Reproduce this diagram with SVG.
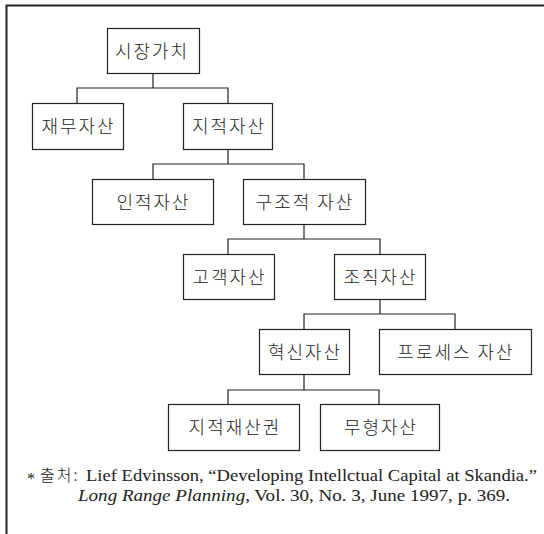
<svg xmlns="http://www.w3.org/2000/svg" width="544" height="534" viewBox="0 0 544 534">
<style>
.box{fill:#fff;stroke:#222;stroke-width:1.2}
.lbl{font-family:"Noto Sans CJK KR","Noto Sans",sans-serif;font-size:18px;font-weight:300;letter-spacing:2px;fill:#222;text-anchor:middle}
.conn{fill:none;stroke:#222;stroke-width:1.2}
.note{font-family:"Liberation Serif",serif;font-size:16px;fill:#222}
.kr{font-family:"Noto Sans CJK KR",sans-serif;font-size:16px;font-weight:300;letter-spacing:2px;fill:#222}
</style>
<rect width="544" height="534" fill="#fff"/>
<path d="M6.5,534 V5.5 H544" fill="none" stroke="#222" stroke-width="2"/>
<g id="connectors" class="conn">
<path d="M153,73 V88 M77,103 V88 H228 V103"/>
<path d="M228,149 V164 M153,179 V164 H304 V179"/>
<path d="M304,224 V239 M228,254 V239 H380 V254"/>
<path d="M380,299 V314 M304,329 V314 H455 V329"/>
<path d="M304,374 V390 M228,404 V390 H379 V404"/>
</g>
<g id="n1"><rect class="box" x="107.5" y="28.5" width="92" height="45"/><text class="lbl" x="152" y="58">시장가치</text></g>
<g id="n2"><rect class="box" x="32.5" y="103.5" width="91" height="46"/><text class="lbl" x="78.5" y="133">재무자산</text></g>
<g id="n3"><rect class="box" x="183.5" y="103.5" width="89" height="46"/><text class="lbl" x="229" y="133">지적자산</text></g>
<g id="n4"><rect class="box" x="92.5" y="179.5" width="121" height="45"/><text class="lbl" x="153.5" y="209">인적자산</text></g>
<g id="n5"><rect class="box" x="243.5" y="179.5" width="122" height="45"/><text class="lbl" x="305" y="209">구조적 자산</text></g>
<g id="n6"><rect class="box" x="183.5" y="254.5" width="91" height="45"/><text class="lbl" x="229.5" y="284">고객자산</text></g>
<g id="n7"><rect class="box" x="334.5" y="254.5" width="91" height="45"/><text class="lbl" x="380.5" y="284">조직자산</text></g>
<g id="n8"><rect class="box" x="259.5" y="329.5" width="90" height="45"/><text class="lbl" x="305" y="359">혁신자산</text></g>
<g id="n9"><rect class="box" x="379.5" y="329.5" width="152" height="45"/><text class="lbl" x="456" y="359">프로세스 자산</text></g>
<g id="n10"><rect class="box" x="168.5" y="404.5" width="131" height="46"/><text class="lbl" x="235" y="434">지적재산권</text></g>
<g id="n11"><rect class="box" x="320.5" y="404.5" width="119" height="46"/><text class="lbl" x="381" y="434">무형자산</text></g>
<g id="footnote">
<text class="note" x="27" y="484">*</text>
<text class="kr" x="40" y="481">출처:</text>
<text class="note" x="86" y="481" textLength="451" lengthAdjust="spacingAndGlyphs">Lief Edvinsson, “Developing Intellctual Capital at Skandia.”</text>
<text class="note" x="78" y="501" textLength="432" lengthAdjust="spacingAndGlyphs"><tspan font-style="italic">Long Range Planning,</tspan> Vol. 30, No. 3, June 1997, p. 369.</text>
</g>
</svg>
